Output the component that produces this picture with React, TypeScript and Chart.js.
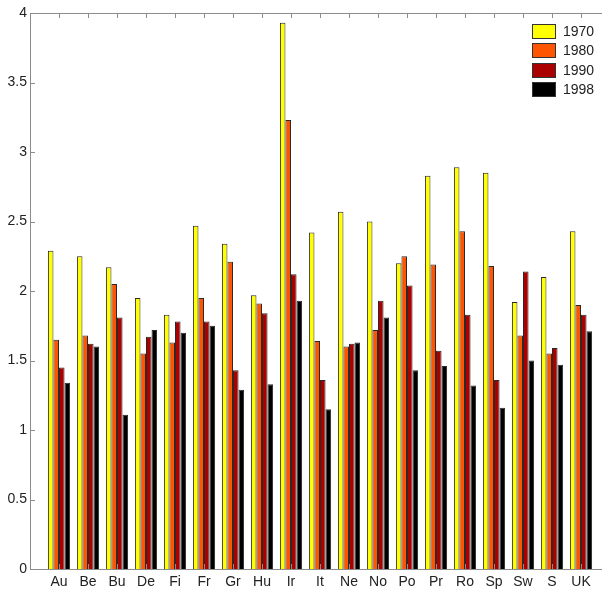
import React, { useEffect, useRef } from "react";
import { Chart, registerables } from "chart.js";

Chart.register(...registerables);

const countries = ["Au", "Be", "Bu", "De", "Fi", "Fr", "Gr", "Hu", "Ir", "It", "Ne", "No", "Po", "Pr", "Ro", "Sp", "Sw", "S", "UK"];
const seriesNames = ["1970", "1980", "1990", "1998"];
const v1970 = [2.29, 2.25, 2.17, 1.95, 1.83, 2.47, 2.34, 1.97, 3.93, 2.42, 2.57, 2.5, 2.2, 2.83, 2.89, 2.85, 1.92, 2.1, 2.43];
const v1980 = [1.65, 1.68, 2.05, 1.55, 1.63, 1.95, 2.21, 1.91, 3.23, 1.64, 1.6, 1.72, 2.25, 2.19, 2.43, 2.18, 1.68, 1.55, 1.9];
const v1990 = [1.45, 1.62, 1.81, 1.67, 1.78, 1.78, 1.43, 1.84, 2.12, 1.36, 1.62, 1.93, 2.04, 1.57, 1.83, 1.36, 2.14, 1.59, 1.83];
const v1998 = [1.34, 1.6, 1.11, 1.72, 1.7, 1.75, 1.29, 1.33, 1.93, 1.15, 1.63, 1.81, 1.43, 1.46, 1.32, 1.16, 1.5, 1.47, 1.71];
const colors = ["#FFFF00", "#FF5500", "#AA0000", "#000000"];
const yTicks = [0, 0.5, 1, 1.5, 2, 2.5, 3, 3.5, 4];

const FONT = "'Liberation Sans', Arial, Helvetica, sans-serif";

const framePlugin = {
  id: "frame",
  afterDatasetsDraw(chart: any) {
    const { ctx, chartArea } = chart;
    const { left, right, top, bottom } = chartArea;
    const xs = chart.scales.x;
    const ys = chart.scales.y;
    ctx.save();
    ctx.strokeStyle = "#8c8c8c";
    ctx.lineWidth = 1;
    ctx.beginPath();
    ctx.moveTo(left + 0.5, top + 0.5);
    ctx.lineTo(right + 0.5, top + 0.5);
    ctx.lineTo(right + 0.5, bottom + 0.5);
    ctx.lineTo(left + 0.5, bottom + 0.5);
    ctx.closePath();
    ctx.stroke();
    const t = 5;
    ctx.beginPath();
    countries.forEach((_, i) => {
      const px = Math.round(xs.getPixelForValue(i + 1)) + 0.5;
      ctx.moveTo(px, top);
      ctx.lineTo(px, top + t);
      ctx.moveTo(px, bottom);
      ctx.lineTo(px, bottom - t);
    });
    yTicks.forEach((v) => {
      const py = Math.round(ys.getPixelForValue(v)) + 0.5;
      ctx.moveTo(left, py);
      ctx.lineTo(left + t, py);
      ctx.moveTo(right, py);
      ctx.lineTo(right - t, py);
    });
    ctx.stroke();
    ctx.restore();
  },
  afterDraw(chart: any) {
    const { ctx } = chart;
    ctx.save();
    const bx = 532;
    const by = 24;
    const pitch = 19.3;
    chart.data.datasets.forEach((ds: any, i: number) => {
      const y = Math.round(by + i * pitch);
      ctx.fillStyle = ds.backgroundColor;
      ctx.fillRect(bx, y, 24, 15);
      ctx.strokeStyle = "#333";
      ctx.lineWidth = 1;
      ctx.strokeRect(bx + 0.5, y + 0.5, 23, 14);
      ctx.fillStyle = "#222";
      ctx.font = `14px ${FONT}`;
      ctx.textBaseline = "middle";
      ctx.textAlign = "left";
      ctx.fillText(ds.label, 563, y + 8);
    });
    ctx.restore();
  },
};

export default function App() {
  const ref = useRef<HTMLCanvasElement | null>(null);
  useEffect(() => {
    if (!ref.current) return;
    const series = [v1970, v1980, v1990, v1998];
    const chart = new Chart(ref.current, {
      type: "bar",
      data: {
        datasets: series.map((vals, s) => ({
          label: seriesNames[s],
          data: vals.map((y, i) => ({ x: i + 1, y })),
          backgroundColor: colors[s],
          borderColor: "#2a2a2a",
          borderWidth: 1,
          categoryPercentage: 0.765,
          barPercentage: 1,
        })),
      },
      options: {
        responsive: false,
        animation: false,
        events: [],
        layout: { padding: { left: 0, right: 10, top: 13, bottom: 0 } },
        plugins: { legend: { display: false }, tooltip: { enabled: false } },
        scales: {
          x: {
            type: "linear",
            min: 0,
            max: 20,
            offset: false,
            grid: { display: false, drawTicks: false, offset: false },
            border: { display: false },
            afterFit: (s: any) => {
              s.height = 24;
            },
            afterBuildTicks: (s: any) => {
              s.ticks = countries.map((_, i) => ({ value: i + 1 }));
            },
            ticks: {
              autoSkip: false,
              maxRotation: 0,
              padding: 5,
              color: "#222",
              font: { family: FONT, size: 14 },
              callback: (v: any) => countries[Number(v) - 1] ?? "",
            },
          },
          y: {
            min: 0,
            max: 4,
            grid: { display: false, drawTicks: false },
            border: { display: false },
            afterFit: (s: any) => {
              s.width = 30;
            },
            afterBuildTicks: (s: any) => {
              s.ticks = yTicks.map((v) => ({ value: v }));
            },
            ticks: {
              padding: 3,
              color: "#222",
              font: { family: FONT, size: 14 },
              callback: (v: any) => String(v),
            },
          },
        },
      },
      plugins: [framePlugin],
    });
    return () => chart.destroy();
  }, []);
  return (
    <div style={{ position: "fixed", left: 0, top: 0, width: 620, height: 593, background: "#fff" }}>
      <canvas ref={ref} width={620} height={593} style={{ display: "block" }} />
    </div>
  );
}
